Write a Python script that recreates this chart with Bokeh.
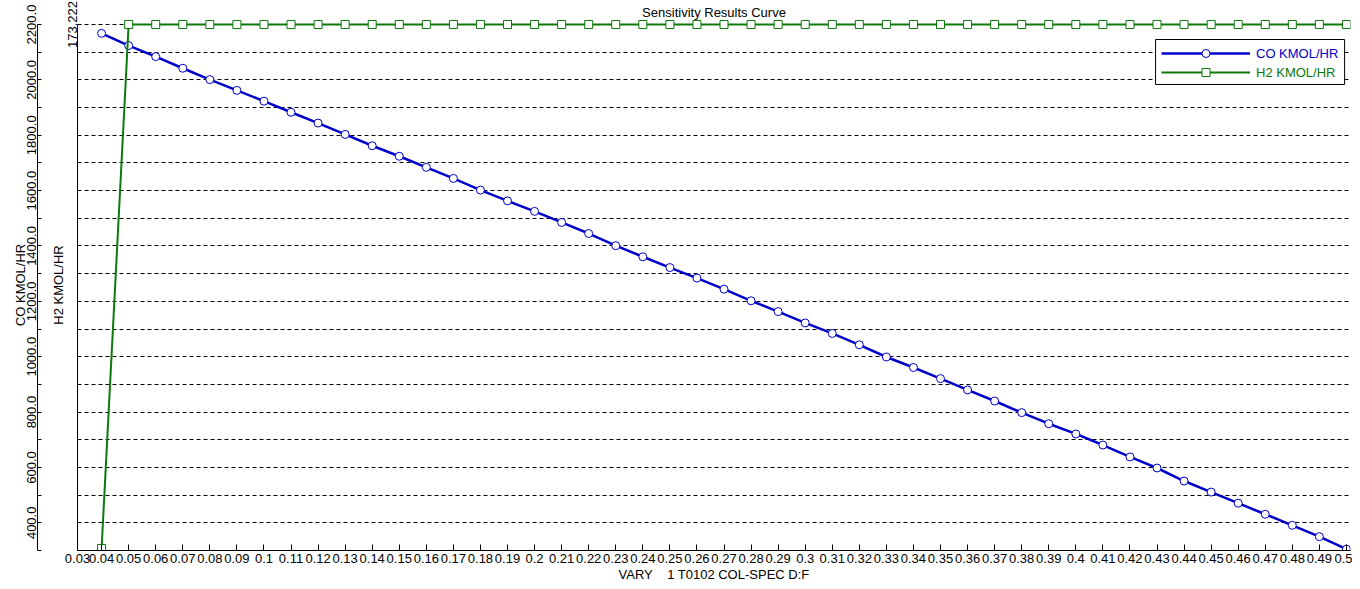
from bokeh.plotting import figure
from bokeh.models import (Range1d, LinearAxis, FixedTicker, Grid, Legend,
                          LegendItem, BoxAnnotation)
from bokeh.embed import file_html
from bokeh.resources import INLINE

# ---------------- data ----------------
VARY = [0.04, 0.05, 0.06, 0.07, 0.08, 0.09, 0.10, 0.11, 0.12, 0.13, 0.14,
        0.15, 0.16, 0.17, 0.18, 0.19, 0.20, 0.21, 0.22, 0.23, 0.24, 0.25,
        0.26, 0.27, 0.28, 0.29, 0.30, 0.31, 0.32, 0.33, 0.34, 0.35, 0.36,
        0.37, 0.38, 0.39, 0.40, 0.41, 0.42, 0.43, 0.44, 0.45, 0.46, 0.47,
        0.48, 0.49, 0.50]

CO_KMOL_HR = [2168, 2124, 2084, 2042, 2001, 1962, 1923, 1883, 1844, 1803, 1762,
              1724, 1684, 1644, 1602, 1563, 1525, 1485, 1445, 1401, 1361, 1322,
              1284, 1244, 1202, 1163, 1122, 1084, 1043, 999, 961, 921, 880,
              840, 798, 758, 721, 681, 638, 598, 551, 511, 471, 431,
              391, 350, 305]

H2_KMOL_HR = [172.9, 173.222, 173.222, 173.222, 173.222, 173.222, 173.222,
              173.222, 173.222, 173.222, 173.222, 173.222, 173.222, 173.222,
              173.222, 173.222, 173.222, 173.222, 173.222, 173.222, 173.222,
              173.222, 173.222, 173.222, 173.222, 173.222, 173.222, 173.222,
              173.222, 173.222, 173.222, 173.222, 173.222, 173.222, 173.222,
              173.222, 173.222, 173.222, 173.222, 173.222, 173.222, 173.222,
              173.222, 173.222, 173.222, 173.222, 173.222]

# x axis starts a hair after 0.03; its first label "0.03" sits at the axis start
X_START, X_END = 0.0311, 0.5015
X_TICKS = [X_START, 0.04, 0.05, 0.06, 0.07, 0.08, 0.09, 0.10, 0.11, 0.12, 0.13,
           0.14, 0.15, 0.16, 0.17, 0.18, 0.19, 0.20, 0.21, 0.22, 0.23, 0.24,
           0.25, 0.26, 0.27, 0.28, 0.29, 0.30, 0.31, 0.32, 0.33, 0.34, 0.35,
           0.36, 0.37, 0.38, 0.39, 0.40, 0.41, 0.42, 0.43, 0.44, 0.45, 0.46,
           0.47, 0.48, 0.49, 0.50]
X_LABELS = ["0.03", "0.04", "0.05", "0.06", "0.07", "0.08", "0.09", "0.1",
            "0.11", "0.12", "0.13", "0.14", "0.15", "0.16", "0.17", "0.18",
            "0.19", "0.2", "0.21", "0.22", "0.23", "0.24", "0.25", "0.26",
            "0.27", "0.28", "0.29", "0.3", "0.31", "0.32", "0.33", "0.34",
            "0.35", "0.36", "0.37", "0.38", "0.39", "0.4", "0.41", "0.42",
            "0.43", "0.44", "0.45", "0.46", "0.47", "0.48", "0.49", "0.5"]

CO_TICKS = [300, 400, 500, 600, 700, 800, 900, 1000, 1100, 1200, 1300, 1400,
            1500, 1600, 1700, 1800, 1900, 2000, 2100, 2200]
CO_LABELS = ["", "400.0", "", "600.0", "", "800.0", "", "1000.0", "", "1200.0",
             "", "1400.0", "", "1600.0", "", "1800.0", "", "2000.0", "", "2200.0"]
CO_GRID = [400, 500, 600, 700, 800, 900, 1000, 1100, 1200, 1300, 1400, 1500,
           1600, 1700, 1800, 1900, 2000, 2100, 2200]

H2_TICKS = [173.222]
H2_LABELS = ["173.222"]

TITLE = "Sensitivity Results Curve"
X_TITLE = "VARY\u00a0\u00a0\u00a0 1 T0102 COL-SPEC D:F"
CO_TITLE = "CO KMOL/HR"
H2_TITLE = "H2 KMOL/HR"

# ---------------- style ----------------
FONT = "Liberation Sans"
FS = "13px"
BLUE = "#0000c8"
GREEN = "#0b7a0b"

# axis extents (CO axis 300..2200, H2 axis matching); ranges have a little
# headroom above so the top markers are not cut by the frame
CO_LO, CO_HI, CO_TOP = 300, 2200, 2218.06
H2_LO, H2_HI, H2_TOP = 172.89877, 173.222, 173.22507

p = figure(frame_width=1273, frame_height=531,
           x_range=Range1d(X_START, X_END), y_range=Range1d(CO_LO, CO_TOP),
           x_axis_location=None, y_axis_location=None,
           output_backend="svg", toolbar_location=None,
           min_border_left=77, min_border_right=2,
           min_border_top=19, min_border_bottom=0)
p.extra_y_ranges = {"h2": Range1d(H2_LO, H2_TOP)}
p.outline_line_color = None
p.xgrid.visible = False
p.ygrid.visible = False
p.background_fill_color = "white"
p.border_fill_color = "white"

p.title.text = TITLE
p.title.align = "center"
p.title.text_font = FONT
p.title.text_font_size = FS
p.title.text_font_style = "normal"
p.title.text_color = "black"
p.title.standoff = 0
p.title.offset = 0

# grid (CO scale)
grid = Grid(dimension=1, ticker=FixedTicker(ticks=CO_GRID),
            grid_line_color="black", grid_line_dash="4 3", grid_line_width=1)
p.add_layout(grid, "center")

# x axis
xaxis = LinearAxis(ticker=FixedTicker(ticks=X_TICKS),
                   major_label_overrides=dict(zip(X_TICKS, X_LABELS)),
                   major_tick_in=6, major_tick_out=0,
                   minor_tick_in=0, minor_tick_out=0,
                   major_label_standoff=3, axis_label=X_TITLE,
                   axis_label_standoff=1)
# y axes
h2_axis = LinearAxis(y_range_name="h2", ticker=FixedTicker(ticks=H2_TICKS),
                     bounds=(H2_LO, H2_HI),
                     major_label_overrides=dict(zip(H2_TICKS, H2_LABELS)),
                     major_tick_in=4, major_tick_out=0,
                     minor_tick_in=0, minor_tick_out=0,
                     major_label_orientation="vertical",
                     major_label_standoff=0, axis_label=H2_TITLE,
                     axis_label_standoff=0)
spacer = LinearAxis(ticker=FixedTicker(ticks=[CO_LO]), major_tick_out=10,
                    major_tick_in=0, minor_tick_in=0, minor_tick_out=0,
                    major_label_overrides={CO_LO: ""},
                    axis_line_color=None, major_tick_line_color=None,
                    minor_tick_line_color=None, major_label_standoff=0,
                    major_label_text_font_size="1px")
co_axis = LinearAxis(ticker=FixedTicker(ticks=CO_TICKS), bounds=(CO_LO, CO_HI),
                     major_label_overrides=dict(zip(CO_TICKS, CO_LABELS)),
                     major_tick_in=4, major_tick_out=0,
                     minor_tick_in=0, minor_tick_out=0,
                     major_label_orientation="vertical",
                     major_label_standoff=1, axis_label=CO_TITLE,
                     axis_label_standoff=-3)

for ax in (xaxis, h2_axis, co_axis):
    ax.axis_line_color = "black"
    ax.major_tick_line_color = "black"
    ax.major_label_text_font = FONT
    ax.major_label_text_font_size = FS
    ax.major_label_text_color = "black"
    ax.axis_label_text_font = FONT
    ax.axis_label_text_font_size = FS
    ax.axis_label_text_font_style = "normal"
    ax.axis_label_text_color = "black"

p.add_layout(xaxis, "below")
p.add_layout(h2_axis, "left")
p.add_layout(spacer, "left")
p.add_layout(co_axis, "left")

# series
co_line = p.line(VARY, CO_KMOL_HR, line_color=BLUE, line_width=2.5)
co_pts = p.scatter(VARY, CO_KMOL_HR, marker="circle", size=8,
                   fill_color="white", line_color=BLUE, line_width=1)
h2_line = p.line(VARY, H2_KMOL_HR, y_range_name="h2", line_color=GREEN,
                 line_width=2)
h2_pts = p.scatter(VARY, H2_KMOL_HR, y_range_name="h2", marker="square",
                   size=8, fill_color="white", line_color=GREEN, line_width=1)

# legend frame (data units) + two single-item legends (own text colours)
box = BoxAnnotation(left=0.42947, right=0.49932, top=2145.8, bottom=1983.3,
                    fill_color="white", fill_alpha=1.0,
                    line_color="black", line_width=1, line_alpha=1.0)
p.add_layout(box)

for lbl, rends, col, loc in ((CO_TITLE, [co_line, co_pts], BLUE, (1084, 487)),
                             (H2_TITLE, [h2_line, h2_pts], GREEN, (1084, 468))):
    leg = Legend(items=[LegendItem(label=lbl, renderers=rends)], location=loc,
                 glyph_width=89, glyph_height=20, label_height=20,
                 label_standoff=6, padding=0, margin=0, spacing=0,
                 border_line_color=None, background_fill_alpha=0,
                 label_text_color=col, label_text_font=FONT,
                 label_text_font_size=FS)
    p.add_layout(leg)

open("out.html", "w").write(file_html(p, INLINE))
